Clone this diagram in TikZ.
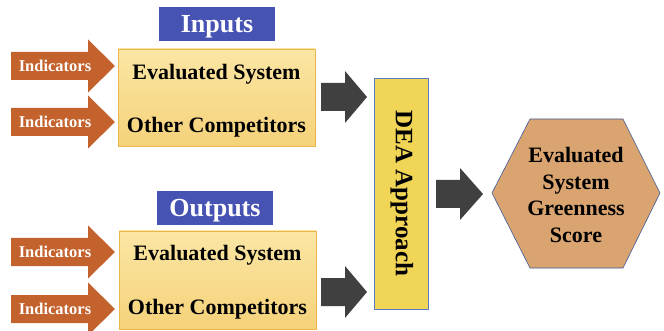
\documentclass[tikz,border=0pt]{standalone}
\usepackage{fontspec}
\setmainfont{Liberation Serif}[BoldFont={Liberation Serif Bold}]
\definecolor{hdrblue}{HTML}{4753B3}
\definecolor{indorange}{HTML}{C4622D}
\definecolor{darkarrow}{HTML}{404040}
\definecolor{boxtop}{HTML}{FBE6A4}
\definecolor{boxbot}{HTML}{F5D27A}
\definecolor{boxedge}{HTML}{EAB54A}
\definecolor{deafill}{HTML}{F0D556}
\definecolor{deaedge}{HTML}{5B7BC0}
\definecolor{hexfill}{HTML}{D9A46F}
\definecolor{hexedge}{HTML}{3F5A9A}
\begin{document}
\begin{tikzpicture}[x=1pt,y=-1pt,
  hdr/.style={fill=hdrblue,text=white,font=\fontsize{26}{28}\selectfont\bfseries,inner sep=0pt,text depth=0pt},
  sysbox/.style={top color=boxtop,bottom color=boxbot,draw=boxedge,line width=0.8pt},
  boxtext/.style={font=\fontsize{22}{24}\selectfont\bfseries,inner sep=0pt,text depth=0pt},
  indtext/.style={text=white,font=\fontsize{16.5}{18}\selectfont\bfseries,inner sep=0pt,text depth=0pt},
  hextext/.style={font=\fontsize{22}{26.7}\selectfont\bfseries,align=center,inner sep=0pt}]
\useasboundingbox (0,0) rectangle (664,331);
% block arrows
\newcommand{\blockarr}[6]{%
  \fill[#6] (#1,#4-14) -- (#2,#4-14) -- (#2,#4-#5) -- (#3,#4) -- (#2,#4+#5) -- (#2,#4+14) -- (#1,#4+14) -- cycle;}
\blockarr{11}{88}{115}{66}{26.5}{indorange}
\blockarr{11}{88}{115}{122}{26.5}{indorange}
\blockarr{11}{88}{115}{252}{26.5}{indorange}
\blockarr{11}{88}{115}{309}{26.5}{indorange}
\node[indtext] (i1) at (55,66) {Indicators};
\node[indtext] (i2) at (55,122) {Indicators};
\node[indtext] (i3) at (55,252) {Indicators};
\node[indtext] (i4) at (55,309) {Indicators};
\blockarr{321}{345}{367}{97}{26}{darkarrow}
\blockarr{321}{345}{367}{292}{26}{darkarrow}
\blockarr{436}{460}{483}{194}{26}{darkarrow}
% headers
\node[hdr,minimum width=116pt,minimum height=34pt] (inputs) at (217,24) {Inputs};
\node[hdr,minimum width=116pt,minimum height=34pt] (outputs) at (215,208) {Outputs};
% boxes
\draw[sysbox] (118,49) rectangle (315,146);
\node[boxtext] (es1) at (216.5,72) {Evaluated System};
\node[boxtext] (oc1) at (216.5,125) {Other Competitors};
\draw[sysbox] (119,231) rectangle (316,329);
\node[boxtext] (es2) at (217.5,253) {Evaluated System};
\node[boxtext] (oc2) at (217.5,307) {Other Competitors};
% DEA
\node[draw=deaedge,fill=deafill,line width=0.6pt,minimum width=54pt,minimum height=231pt,inner sep=0pt] (dea) at (401,193.5) {};
\node[rotate=-90,font=\fontsize{25}{28}\selectfont\bfseries,inner sep=0pt] (dealbl) at (402,193.5) {DEA Approach};
% hexagon
\draw[draw=hexedge,fill=hexfill,line width=0.6pt] (492,193) -- (530,119) -- (623,119) -- (660,193) -- (623,268) -- (530,268) -- cycle;
\node[hextext] (score) at (576,195) {Evaluated\\System\\Greenness\\Score};
\end{tikzpicture}
\end{document}
